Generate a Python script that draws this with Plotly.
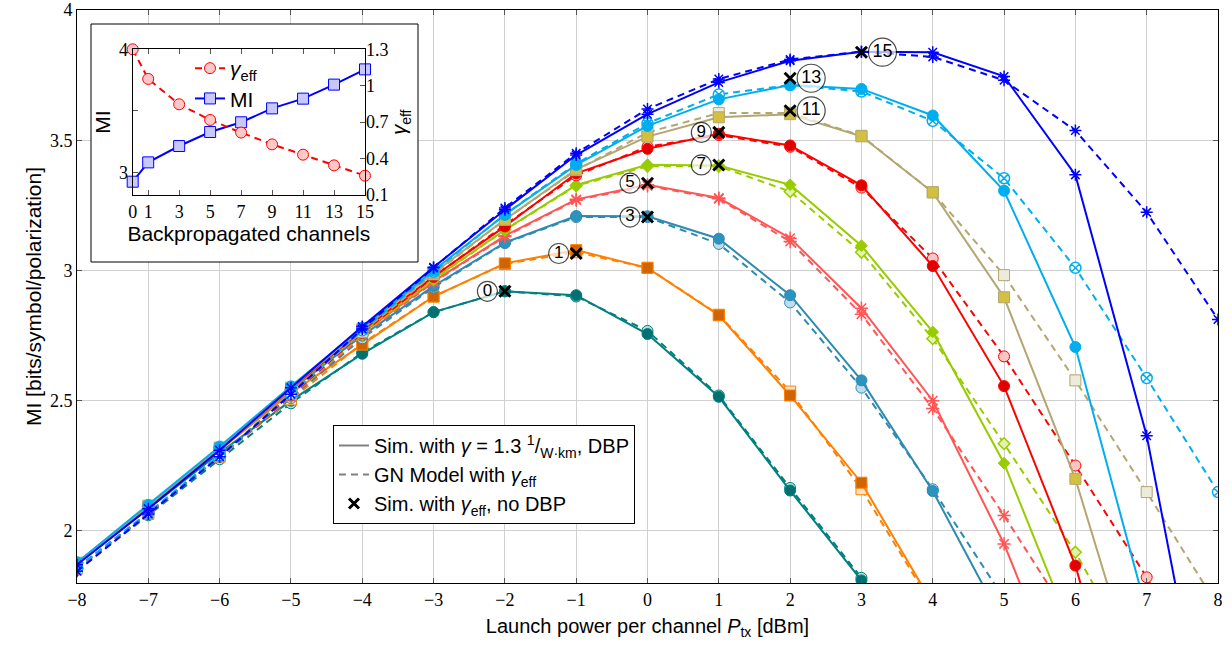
import plotly.graph_objects as go

# ---------------- data ----------------
x_power = [-8, -7, -6, -5, -4, -3, -2, -1, 0, 1, 2, 3, 4, 5, 6, 7, 8]
N = None

sim_0 = [1.875, 2.085, 2.30, 2.50, 2.68, 2.84, 2.92, 2.905, 2.756, 2.515, 2.155, 1.81, 1.40, N, N, N, N]
gn_0 = [1.85, 2.06, 2.275, 2.49, 2.685, 2.84, 2.92, 2.90, 2.768, 2.52, 2.165, 1.82, 1.42, N, N, N, N]
sim_1 = [1.875, 2.09, 2.31, 2.53, 2.715, 2.90, 3.027, 3.078, 3.01, 2.828, 2.52, 2.185, 1.72, N, N, N, N]
gn_1 = [1.855, 2.065, 2.285, 2.505, 2.72, 2.90, 3.025, 3.07, 3.01, 2.83, 2.535, 2.16, 1.71, N, N, N, N]
sim_3 = [1.877, 2.093, 2.315, 2.54, 2.75, 2.94, 3.107, 3.209, 3.208, 3.122, 2.905, 2.578, 2.153, 1.64, N, N, N]
gn_3 = [1.855, 2.065, 2.285, 2.51, 2.74, 2.935, 3.105, 3.205, 3.205, 3.102, 2.877, 2.55, 2.16, 1.74, N, N, N]
sim_5 = [1.877, 2.095, 2.317, 2.543, 2.76, 2.958, 3.133, 3.273, 3.329, 3.278, 3.124, 2.855, 2.50, 1.95, 1.27, N, N]
gn_5 = [1.856, 2.067, 2.287, 2.515, 2.75, 2.955, 3.13, 3.27, 3.325, 3.275, 3.111, 2.832, 2.47, 2.059, 1.63, N, N]
sim_7 = [1.878, 2.095, 2.318, 2.545, 2.765, 2.967, 3.156, 3.328, 3.406, 3.403, 3.329, 3.095, 2.764, 2.26, 1.58, N, N]
gn_7 = [1.857, 2.068, 2.288, 2.518, 2.755, 2.965, 3.155, 3.325, 3.40, 3.40, 3.303, 3.07, 2.738, 2.335, 1.918, 1.43, N]
sim_9 = [1.878, 2.096, 2.319, 2.547, 2.77, 2.977, 3.169, 3.373, 3.467, 3.525, 3.48, 3.327, 3.017, 2.556, 1.867, 0.91, N]
gn_9 = [1.857, 2.068, 2.289, 2.52, 2.76, 2.975, 3.175, 3.365, 3.475, 3.52, 3.475, 3.318, 3.046, 2.67, 2.251, 1.822, 1.30]
sim_11 = [1.878, 2.097, 2.32, 2.55, 2.775, 2.99, 3.195, 3.388, 3.514, 3.588, 3.60, 3.515, 3.30, 2.897, 2.20, 1.30, N]
gn_11 = [1.857, 2.069, 2.29, 2.525, 2.765, 2.985, 3.195, 3.385, 3.53, 3.604, 3.605, 3.517, 3.30, 2.982, 2.578, 2.149, 1.71]
sim_13 = [1.879, 2.10, 2.324, 2.555, 2.78, 3.00, 3.214, 3.405, 3.555, 3.657, 3.712, 3.697, 3.595, 3.306, 2.706, 1.69, N]
gn_13 = [1.858, 2.07, 2.29, 2.525, 2.77, 2.995, 3.215, 3.41, 3.565, 3.676, 3.712, 3.687, 3.574, 3.354, 3.01, 2.587, 2.149]
sim_15 = [1.87, 2.085, 2.31, 2.55, 2.785, 3.012, 3.233, 3.443, 3.60, 3.722, 3.805, 3.84, 3.838, 3.745, 3.367, 2.365, 0.95]
gn_15 = [1.845, 2.065, 2.285, 2.525, 2.775, 3.01, 3.24, 3.45, 3.62, 3.735, 3.81, 3.84, 3.82, 3.73, 3.537, 3.223, 2.812]

# Sim. with gamma_eff, no DBP (black crosses)
xmark_power = [-2, -1, 0, 0, 1, 1, 2, 2, 3]
xmark_mi = [2.92, 3.065, 3.205, 3.335, 3.405, 3.53, 3.613, 3.738, 3.838]
xmark_labels = ["0", "1", "3", "5", "7", "9", "11", "13", "15"]

# inset
bp_channels = [0, 1, 3, 5, 7, 9, 11, 13, 15]
inset_mi = [2.924, 3.081, 3.214, 3.328, 3.407, 3.520, 3.599, 3.713, 3.837]
gamma_eff = [1.30, 1.056, 0.847, 0.718, 0.614, 0.517, 0.432, 0.344, 0.259]

# ---------------- styles ----------------
series = [
    # sim, gn, line colour, sim symbol, gn symbol, sim fill, gn fill, size
    (sim_0, gn_0, "#008080", "circle", "circle", "#007070", "#b8dcdc", 11),
    (sim_1, gn_1, "#FF8000", "square", "square", "#D06400", "#FFE3C4", 11),
    (sim_3, gn_3, "#2E8AB0", "circle", "circle", "#2A93BF", "#BFDDEA", 11),
    (sim_5, gn_5, "#FF5555", "asterisk-open", "asterisk-open", "#FF5555", "#FF5555", 11),
    (sim_7, gn_7, "#99CC00", "diamond", "diamond", "#99CC00", "#E2F2B0", 9),
    (sim_9, gn_9, "#FF0000", "circle", "circle", "#E00000", "#FFC4C4", 11),
    (sim_11, gn_11, "#B3A670", "square", "square", "#D4C040", "#EDEBDC", 11),
    (sim_13, gn_13, "#00AEEF", "circle", "circle-x", "#00AEEF", "#FFFFFF", 11),
    (sim_15, gn_15, "#0000FF", "asterisk-open", "asterisk-open", "#0000FF", "#0000FF", 10),
]

SANS = "Liberation Sans, Arial, sans-serif"
SERIF = "Liberation Serif, DejaVu Serif, serif"

fig = go.Figure()

for s, g, col, sym, gsym, f1, f2, sz in series:
    fig.add_trace(go.Scatter(
        x=x_power, y=g, mode="lines+markers", showlegend=False,
        line=dict(color=col, width=2, dash="7px,5px"),
        marker=dict(symbol=gsym, size=sz, color=f2,
                    line=dict(color=col, width=1.5 if gsym != "circle" and gsym != "square" else 1)),
        xaxis="x", yaxis="y", hoverinfo="skip"))
    fig.add_trace(go.Scatter(
        x=x_power, y=s, mode="lines+markers", showlegend=False,
        line=dict(color=col, width=2),
        marker=dict(symbol=sym, size=sz, color=f1,
                    line=dict(color=col, width=1.5 if "asterisk" in sym else 1)),
        xaxis="x", yaxis="y", hoverinfo="skip"))

# circled channel-count labels next to the crosses
is_double = [len(l) > 1 for l in xmark_labels]
label_x = [xp + (0.295 if d else -0.245) for xp, d in zip(xmark_power, is_double)]
fig.add_trace(go.Scatter(
    x=label_x, y=xmark_mi, mode="markers+text", text=xmark_labels,
    textposition="middle center", showlegend=False, cliponaxis=False,
    textfont=dict(family=SANS, size=[18 if d else 17 for d in is_double], color="black"),
    marker=dict(symbol="circle", size=[28 if d else 20 for d in is_double], color="white",
                line=dict(color="black", width=1.2)),
    xaxis="x", yaxis="y", hoverinfo="skip"))

fig.add_trace(go.Scatter(
    x=xmark_power, y=xmark_mi, mode="markers", showlegend=False,
    marker=dict(symbol="x-thin-open", size=11, color="black", line=dict(color="black", width=3)),
    xaxis="x", yaxis="y", hoverinfo="skip"))

# legend dummy entries
fig.add_trace(go.Scatter(
    x=[None], y=[None], mode="lines", line=dict(color="#808080", width=2),
    name="Sim. with <i>γ</i> = 1.3 <sup>1</sup>/<sub>W·km</sub>, DBP", legend="legend"))
fig.add_trace(go.Scatter(
    x=[None], y=[None], mode="lines", line=dict(color="#808080", width=2, dash="7px,5px"),
    name="GN Model with <i>γ</i><sub>eff</sub>", legend="legend"))
fig.add_trace(go.Scatter(
    x=[None], y=[None], mode="markers",
    marker=dict(symbol="x-thin-open", size=10, color="black", line=dict(color="black", width=3)),
    name="Sim. with <i>γ</i><sub>eff</sub>, no DBP", legend="legend"))

# cover for inset (white box)
fig.add_trace(go.Scatter(
    x=[0, 1, 1, 0, 0], y=[0, 0, 1, 1, 0], mode="lines", fill="toself",
    fillcolor="white", line=dict(width=0, color="white"), showlegend=False,
    xaxis="x2", yaxis="y2", hoverinfo="skip"))

# inset traces
fig.add_trace(go.Scatter(
    x=bp_channels, y=gamma_eff, mode="lines+markers", name="<i>γ</i><sub>eff</sub>",
    line=dict(color="#FF0000", width=2, dash="7px,5px"), cliponaxis=False,
    marker=dict(symbol="circle", size=11, color="#FFC8C8", line=dict(color="#FF0000", width=1)),
    xaxis="x3", yaxis="y4", legend="legend2", hoverinfo="skip"))
fig.add_trace(go.Scatter(
    x=bp_channels, y=inset_mi, mode="lines+markers", name="MI",
    line=dict(color="#0000FF", width=2), cliponaxis=False,
    marker=dict(symbol="square", size=11, color="#C8C8FF", line=dict(color="#0000FF", width=1)),
    xaxis="x3", yaxis="y3", legend="legend2", hoverinfo="skip"))

axis_common = dict(showline=True, linecolor="black", linewidth=1, mirror="ticks",
                   ticks="inside", ticklen=5, tickcolor="#555555", automargin=False,
                   ticklabeloverflow="allow",
                   tickfont=dict(family=SERIF, size=18, color="black"))

# geometry (page body margin removed below, figure fills the window)
W, H = 1232, 651
L, R, T, B = 77, 14, 10, 68
pw, ph = W - L - R, H - T - B


def px_x(p):
    return (p - L) / pw


def px_y(p):
    return (H - B - p) / ph


fig.update_layout(
    width=W, height=H, margin=dict(l=L, r=R, t=T, b=B, autoexpand=False),
    paper_bgcolor="white", plot_bgcolor="white",
    xaxis=dict(domain=[0, 1], range=[-8, 8], dtick=1, showgrid=True, gridcolor="#d0d0d0",
               zeroline=False, title=dict(text="Launch power per channel <i>P</i><sub>tx</sub> [dBm]",
                                          font=dict(family=SANS, size=20, color="black"), standoff=10),
               **axis_common),
    yaxis=dict(domain=[0, 1], range=[1.8, 4], tickvals=[2, 2.5, 3, 3.5, 4],
               ticktext=["2", "2.5", "3", "3.5", "4"], showgrid=True, gridcolor="#d0d0d0",
               zeroline=False, title=dict(text="MI [bits/symbol/polarization]",
                                          font=dict(family=SANS, size=21, color="black"), standoff=2),
               **axis_common),
    xaxis2=dict(domain=[px_x(91), px_x(418)], range=[0, 1], visible=False, anchor="y2"),
    yaxis2=dict(domain=[px_y(262), px_y(24)], range=[0, 1], visible=False, anchor="x2"),
    xaxis3=dict(domain=[px_x(132.7), px_x(365)], range=[0, 15], tickvals=bp_channels,
                anchor="y3", showgrid=False, zeroline=False, showline=True, linecolor="black",
                mirror="ticks", ticks="inside", ticklen=5, tickcolor="#555555", automargin=False,
                tickfont=dict(family=SERIF, size=18, color="black"),
                title=dict(text="Backpropagated channels", font=dict(family=SANS, size=21, color="black"),
                           standoff=0)),
    yaxis3=dict(domain=[px_y(195), px_y(49.3)], range=[2.816, 4], tickvals=[3, 3.5, 4],
                ticktext=["3", "", "4"], anchor="x3", showgrid=False, zeroline=False,
                showline=True, linecolor="black", mirror=True, ticks="inside", ticklen=5,
                tickcolor="#555555", automargin=False, tickfont=dict(family=SERIF, size=18, color="black"),
                title=dict(text="MI", font=dict(family=SANS, size=21, color="black"), standoff=2)),
    yaxis4=dict(overlaying="y3", side="right", anchor="x3", range=[0.1, 1.3],
                tickvals=[0.1, 0.4, 0.7, 1, 1.3], ticktext=["0.1", "0.4", "0.7", "1", "1.3"],
                showgrid=False, zeroline=False, ticks="inside", ticklen=5, tickcolor="#555555",
                automargin=False, tickfont=dict(family=SERIF, size=18, color="black"),
                title=dict(text="<i>γ</i><sub>eff</sub>", font=dict(family=SANS, size=20, color="black"),
                           standoff=2)),
    legend=dict(x=px_x(333), y=px_y(425), xanchor="left", yanchor="top",
                bgcolor="white", bordercolor="black", borderwidth=1,
                font=dict(family=SANS, size=20, color="black"), tracegroupgap=0),
    legend2=dict(x=px_x(190), y=px_y(48), xanchor="left", yanchor="top",
                 bgcolor="rgba(0,0,0,0)", borderwidth=0,
                 font=dict(family=SANS, size=21, color="black"), tracegroupgap=0),
    shapes=[dict(type="rect", xref="paper", yref="paper", x0=px_x(91), x1=px_x(418),
                 y0=px_y(262), y1=px_y(24), line=dict(color="black", width=1),
                 fillcolor="rgba(0,0,0,0)", layer="above")],
)

fig.write_html("out.html", config={"displayModeBar": False},
               post_script="document.body.style.margin='0px';")
